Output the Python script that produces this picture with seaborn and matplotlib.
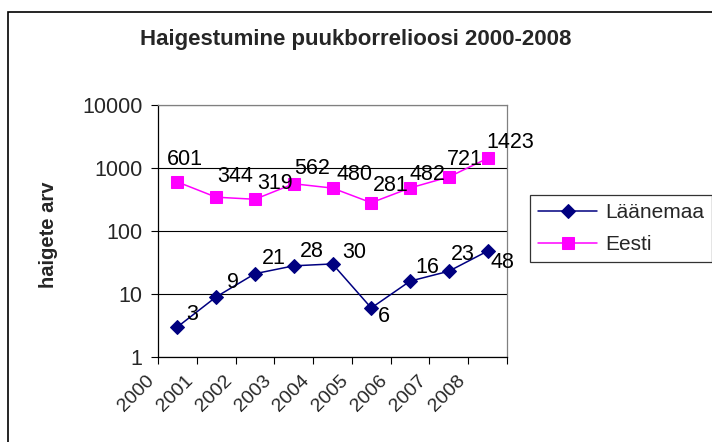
import numpy as np
import pandas as pd
import seaborn as sns
import matplotlib.pyplot as plt
from matplotlib.patches import Rectangle
from matplotlib.ticker import FixedLocator, NullLocator

years = ['2000', '2001', '2002', '2003', '2004', '2005', '2006', '2007', '2008']
laanemaa = [3, 9, 21, 28, 30, 6, 16, 23, 48]
eesti = [601, 344, 319, 562, 480, 281, 482, 721, 1423]
y_ticks = [1, 10, 100, 1000, 10000]

# label offsets (pixels, right/down)
laanemaa_off = [(15, -12), (17, -14), (19, -15), (18, -14), (22, -11), (13, 9), (17, -14), (14, -17), (15, 11)]
eesti_off = [(7, -22), (19, -21), (20, -16), (18, -15), (22, -14), (19, -17), (17, -13), (16, -17), (23, -16)]

sns.set_style("white")
plt.rcParams['font.family'] = ['Liberation Sans', 'DejaVu Sans']

df = pd.DataFrame({'aasta': years, 'Läänemaa': laanemaa, 'Eesti': eesti})

fig = plt.figure(figsize=(7.12, 4.42), dpi=100)
ax = fig.add_axes([158 / 712, 85 / 442, 349 / 712, 252 / 442])

sns.lineplot(data=df, x='aasta', y='Läänemaa', ax=ax, color='#000080', marker='D',
             markersize=7.5, markeredgecolor='#000080', linewidth=1.1, label='Läänemaa')
sns.lineplot(data=df, x='aasta', y='Eesti', ax=ax, color='#FF00FF', marker='s',
             markersize=8.5, markeredgecolor='#FF00FF', linewidth=1.1, label='Eesti')

ax.set_yscale('log')
ax.set_ylim(1, 10000)
ax.yaxis.set_major_locator(FixedLocator(y_ticks))
ax.yaxis.set_minor_locator(NullLocator())
ax.set_yticklabels([str(v) for v in y_ticks], fontsize=15.5)

# category ticks sit on the boundaries, labels hang off the left boundary
ax.set_xlim(-0.5, len(years) - 0.5)
ax.set_xticks(np.arange(-0.5, len(years), 1.0))
ax.set_xticklabels(years + [''], fontsize=14, rotation=45, ha='right')
ax.tick_params(axis='both', direction='out', length=5, width=0.8, color='black',
               bottom=True, left=True, pad=6)

ax.grid(axis='y', color='black', linewidth=0.8)
ax.set_axisbelow(True)
for s in ['left', 'bottom']:
    ax.spines[s].set_color('black')
    ax.spines[s].set_linewidth(0.9)
for s in ['top', 'right']:
    ax.spines[s].set_color('#808080')
    ax.spines[s].set_linewidth(0.9)

# data labels
for vals, offs in [(laanemaa, laanemaa_off), (eesti, eesti_off)]:
    for i, (v, (dx, dy)) in enumerate(zip(vals, offs)):
        ax.annotate(str(v), (i, v), xytext=(dx * 0.72, -dy * 0.72), textcoords='offset points',
                    ha='center', va='center', fontsize=15.5, color='black')

ax.set_xlabel('')
ax.set_ylabel('haigete arv', fontsize=14.5, fontweight='bold', va='center')
ax.yaxis.set_label_coords(-0.315, 0.484)

fig.text(356 / 712, 1 - 39 / 442, 'Haigestumine puukborrelioosi 2000-2008', ha='center', va='center',
         fontsize=16, fontweight='bold')

leg = ax.legend(loc='upper left', bbox_to_anchor=(530 / 712, 1 - 195 / 442), bbox_transform=fig.transFigure,
                fontsize=15, frameon=True, fancybox=False, edgecolor='black', borderaxespad=0,
                handlelength=2.8, handletextpad=0.4, labelspacing=0.6, borderpad=0.4)
leg.get_frame().set_linewidth(0.9)

fig.patches.append(Rectangle((8 / 712, -0.1), 1.2, 1.1 - 12 / 442, transform=fig.transFigure,
                             fill=False, edgecolor='black', linewidth=1.2))

plt.savefig('out.png', dpi=100)
